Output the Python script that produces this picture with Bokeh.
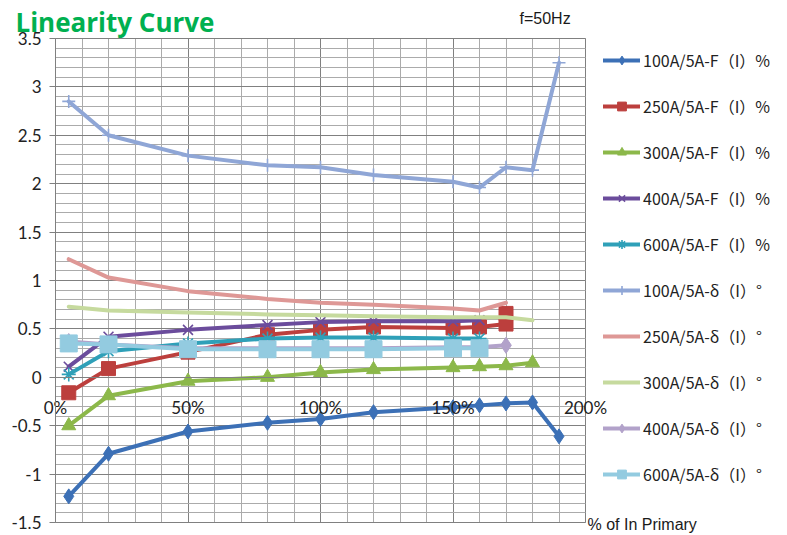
from bokeh.plotting import figure
from bokeh.models import (Range1d, SingleIntervalTicker, FixedTicker, Legend, LegendItem,
                          Label)
from bokeh.embed import file_html
from bokeh.resources import INLINE

# ---------------- data ----------------
series_names = [
    "100A/5A-F（I）%", "250A/5A-F（I）%", "300A/5A-F（I）%", "400A/5A-F（I）%",
    "600A/5A-F（I）%", "100A/5A-δ（I）°", "250A/5A-δ（I）°", "300A/5A-δ（I）°",
    "400A/5A-δ（I）°", "600A/5A-δ（I）°",
]

x_100F = [5, 20, 50, 80, 100, 120, 150, 160, 170, 180, 190]
y_100F = [-1.23, -0.79, -0.56, -0.47, -0.43, -0.36, -0.31, -0.29, -0.27, -0.26, -0.61]

x_250F = [5, 20, 50, 80, 100, 120, 150, 160, 170, 170]
y_250F = [-0.16, 0.09, 0.26, 0.44, 0.49, 0.52, 0.51, 0.52, 0.55, 0.66]

x_300F = [5, 20, 50, 80, 100, 120, 150, 160, 170, 180]
y_300F = [-0.50, -0.19, -0.04, 0.00, 0.05, 0.08, 0.10, 0.11, 0.12, 0.15]

x_400F = [5, 20, 50, 80, 100, 120, 150, 160]
y_400F = [0.11, 0.42, 0.49, 0.54, 0.57, 0.58, 0.58, 0.59]

x_600F = [5, 20, 50, 80, 100, 120, 150, 160]
y_600F = [0.03, 0.27, 0.35, 0.40, 0.41, 0.41, 0.40, 0.40]

x_100D = [5, 20, 50, 80, 100, 120, 150, 160, 170, 180, 190]
y_100D = [2.85, 2.50, 2.29, 2.19, 2.17, 2.09, 2.02, 1.96, 2.17, 2.14, 3.25]

x_250D = [5, 20, 50, 80, 100, 120, 150, 160, 170]
y_250D = [1.22, 1.03, 0.89, 0.81, 0.77, 0.75, 0.71, 0.69, 0.77]

x_300D = [5, 20, 50, 80, 100, 120, 150, 160, 170, 180]
y_300D = [0.73, 0.69, 0.67, 0.65, 0.64, 0.63, 0.62, 0.62, 0.62, 0.59]

x_400D = [5, 20, 50, 80, 100, 120, 150, 160, 170]
y_400D = [0.37, 0.34, 0.30, 0.30, 0.30, 0.30, 0.31, 0.31, 0.33]

x_600D = [5, 20, 50, 80, 100, 120, 150, 160]
y_600D = [0.35, 0.34, 0.29, 0.29, 0.29, 0.29, 0.30, 0.30]

ytick_values = [-1.5, -1, -0.5, 0, 0.5, 1, 1.5, 2, 2.5, 3, 3.5]
ytick_labels = ["-1.5", "-1", "-0.5", "0", "0.5", "1", "1.5", "2", "2.5", "3", "3.5"]
xtick_values = [0, 50, 100, 150, 200]
xtick_labels = ["0%", "50%", "100%", "150%", "200%"]

# ---------------- styles / layout ----------------
xs = [x_100F, x_250F, x_300F, x_400F, x_600F, x_100D, x_250D, x_300D, x_400D, x_600D]
ys = [y_100F, y_250F, y_300F, y_400F, y_600F, y_100D, y_250D, y_300D, y_400D, y_600D]
colors = ["#3c70b6", "#bc3f3d", "#8cb84a", "#6b4c9c", "#2fa0b8",
          "#8fa6d6", "#de9896", "#c6da9e", "#b2a2ca", "#93cbe0"]
markers = ["diamond", "square", "triangle", "x", "asterisk",
           "cross", None, None, "diamond", "square"]
msizes = [15, 14, 14, 14, 14, 13, 0, 0, 16, 17]

W, H = 786, 534
X0, X1 = 0, 200          # plot area in data units
Y0, Y1 = -1.5, 3.5
PX_L, PX_R = 55, 585     # plot area in canvas pixels
PX_T, PX_B = 38, 522
sx = (PX_R - PX_L) / (X1 - X0)
sy = (PX_B - PX_T) / (Y1 - Y0)
x_range = Range1d(X0 - PX_L / sx, X1 + (W - PX_R) / sx)
y_range = Range1d(Y0 - (H - PX_B) / sy, Y1 + PX_T / sy)


def cx(px):  # canvas x pixel -> data x
    return x_range.start + px / sx


def cy(py):  # canvas y pixel -> data y
    return y_range.end - py / sy


p = figure(width=W, height=H, output_backend="svg", toolbar_location=None,
           x_range=x_range, y_range=y_range, min_border=0)
p.background_fill_color = "white"
p.border_fill_color = "white"
p.outline_line_color = None

# grids limited to the plot area
p.xgrid.ticker = SingleIntervalTicker(interval=50, num_minor_ticks=5)
p.ygrid.ticker = SingleIntervalTicker(interval=0.5, num_minor_ticks=5)
p.xgrid.bounds = (X0, X1)
p.xgrid.cross_bounds = (Y0, Y1)
p.ygrid.bounds = (Y0, Y1)
p.ygrid.cross_bounds = (X0, X1)
for g in (p.xgrid, p.ygrid):
    g.grid_line_color = "#808080"
    g.grid_line_width = 1
    g.minor_grid_line_color = "#ababab"
    g.minor_grid_line_width = 1

# y axis at x = 0
ya = p.yaxis[0]
ya.fixed_location = X0
ya.bounds = (Y0, Y1)
ya.ticker = FixedTicker(ticks=ytick_values)
ya.major_label_overrides = dict(zip(ytick_values, ytick_labels))
ya.axis_line_color = "#808080"
ya.major_tick_line_color = "#808080"
ya.major_tick_out = 6
ya.major_tick_in = 0
ya.minor_tick_out = 0
ya.minor_tick_in = 0
ya.major_label_standoff = 8
ya.major_label_text_font = "Lato"
ya.major_label_text_font_size = "17px"
ya.major_label_text_color = "#222222"

# x axis crossing at y = 0, labels below the line (Excel style)
xa = p.xaxis[0]
xa.fixed_location = 0
xa.bounds = (X0, X1)
xa.ticker = FixedTicker(ticks=xtick_values)
xa.major_label_overrides = dict(zip(xtick_values, xtick_labels))
xa.axis_line_color = "#808080"
xa.major_tick_out = 0
xa.major_tick_in = 0
xa.minor_tick_out = 0
xa.minor_tick_in = 0
xa.major_label_standoff = 20
xa.major_label_text_font = "Lato"
xa.major_label_text_font_size = "17px"
xa.major_label_text_color = "#222222"

# series
items = []
for name, x, y, c, m, s in zip(series_names, xs, ys, colors, markers, msizes):
    rs = [p.line(x, y, line_width=4, line_color=c, line_join="round", line_cap="round")]
    if m is not None:
        if m in ("x", "asterisk", "cross"):
            rs.append(p.scatter(x, y, marker=m, size=s, line_color=c, line_width=1.6))
        else:
            rs.append(p.scatter(x, y, marker=m, size=s, fill_color=c, line_color=c))
    items.append(LegendItem(label=name, renderers=rs))

legend = Legend(items=items, location=(603, H - 486), glyph_width=37, glyph_height=22,
                label_height=22, spacing=22, padding=0, label_standoff=3,
                border_line_color=None, background_fill_alpha=0,
                label_text_font="Noto Sans CJK SC", label_text_font_size="16px",
                label_text_color="#222222")
p.add_layout(legend)

# texts
p.add_layout(Label(x=cx(15), y=cy(21), text="Linearity Curve", text_font="Open Sans",
                   text_font_style="bold", text_font_size="26px", text_color="#00b050",
                   text_baseline="alphabetic", text_align="left"))
p.add_layout(Label(x=cx(519), y=cy(18), text="f=50Hz", text_font="Liberation Sans",
                   text_font_size="16px", text_color="#1a1a1a",
                   text_baseline="middle", text_align="left"))
p.add_layout(Label(x=cx(587), y=cy(524), text="% of In Primary", text_font="Liberation Sans",
                   text_font_size="16px", text_color="#1a1a1a",
                   text_baseline="middle", text_align="left"))

open("out.html", "w").write(file_html(p, INLINE))
